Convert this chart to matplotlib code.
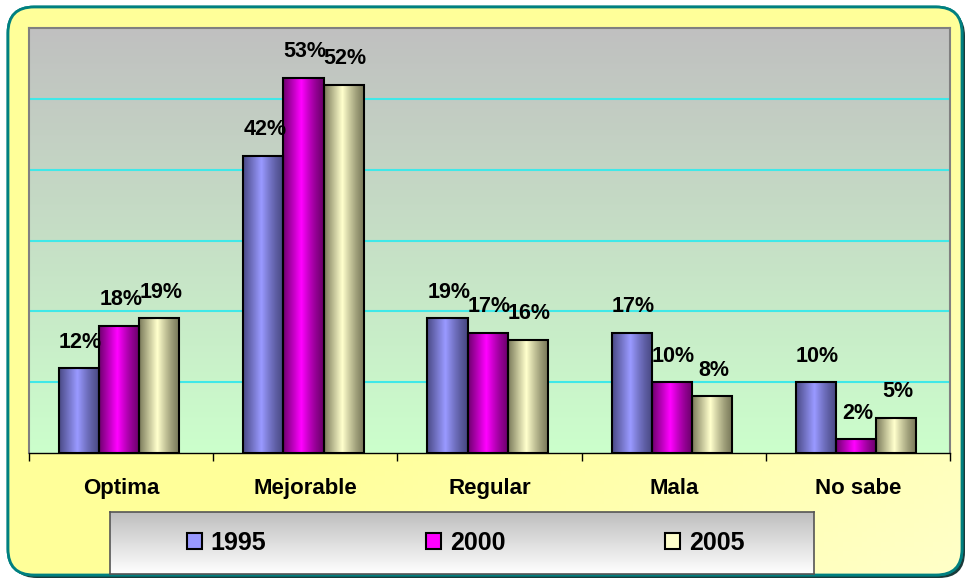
"""
Encuesta: valoracion por anio - barras agrupadas estilo Excel
"""
import matplotlib
matplotlib.use('Agg')
import matplotlib.pyplot as plt
import matplotlib.patches as patches
from matplotlib.colors import LinearSegmentedColormap
import numpy as np

plt.rcParams['font.family'] = ['Liberation Sans', 'DejaVu Sans']

categories = ['Optima', 'Mejorable', 'Regular', 'Mala', 'No sabe']
years = ['1995', '2000', '2005']
v1995 = [12, 42, 19, 17, 10]
v2000 = [18, 53, 17, 10, 2]
v2005 = [19, 52, 16, 8, 5]
series = [v1995, v2000, v2005]

base_colors = ['#9999FF', '#FF00FF', '#FFFFCC']
dark_colors = ['#4A4A85', '#6E006E', '#7A7A5A']

W, H = 966, 581
fig = plt.figure(figsize=(W / 100, H / 100), dpi=100)
fig.patch.set_facecolor('white')

# fondo redondeado amarillo con sombra
bg = fig.add_axes([0, 0, 1, 1], zorder=-5)
bg.set_xlim(0, W)
bg.set_ylim(H, 0)
bg.axis('off')
shadow = patches.FancyBboxPatch((11, 10), W - 12, H - 13,
                                boxstyle='round,pad=0,rounding_size=26',
                                facecolor='#1a3a3a', edgecolor='none')
bg.add_patch(shadow)
frame = patches.FancyBboxPatch((8, 7), W - 12, H - 13,
                               boxstyle='round,pad=0,rounding_size=26',
                               facecolor='#FFFF99', edgecolor='#008080',
                               linewidth=2)
bg.add_patch(frame)
gx, gy = np.meshgrid(np.linspace(0, 1, 200), np.linspace(0, 1, 120))
g = np.clip((gx * 0.5 + gy * 0.5 - 0.55) / 0.45, 0, 1)
ycmap = LinearSegmentedColormap.from_list('y', ['#FFFF99', '#FFFFC8'])
im = bg.imshow(g, cmap=ycmap, extent=[8, W - 4, H - 6, 7], aspect='auto', zorder=1)
im.set_clip_path(frame)
edge = patches.FancyBboxPatch((8, 7), W - 12, H - 13,
                              boxstyle='round,pad=0,rounding_size=26',
                              facecolor='none', edgecolor='#008080',
                              linewidth=2, zorder=2)
bg.add_patch(edge)

# area del grafico
ax = fig.add_axes([29 / W, 1 - 453 / H, (950 - 29) / W, (453 - 28) / H])
gcmap = LinearSegmentedColormap.from_list('g', ['#CCFFCC', '#C0C0C0'])
ax.imshow(np.linspace(0, 1, 256).reshape(-1, 1), cmap=gcmap, origin='lower',
          extent=[0, 1, 0, 1], transform=ax.transAxes, aspect='auto', zorder=0)

x = np.arange(len(categories))
width = 0.218
prof = np.concatenate([np.linspace(0, 1, 45), np.linspace(1, 0, 55) ** 1.3])
prof = prof.reshape(1, -1)

for i, (vals, c, dc) in enumerate(zip(series, base_colors, dark_colors)):
    pos = x + (i - 1) * width - 0.01
    bars = ax.bar(pos, vals, width, facecolor='none', edgecolor='black',
                  linewidth=1.5, zorder=3)
    cmap = LinearSegmentedColormap.from_list('b%d' % i, [dc, c])
    for b, v in zip(bars, vals):
        gim = ax.imshow(prof, cmap=cmap, extent=[b.get_x(), b.get_x() + b.get_width(), 0, v],
                        aspect='auto', zorder=2)
        gim.set_clip_path(b)
        ax.annotate(f'{v}%', (b.get_x() + b.get_width() / 2, v),
                    xytext=(1, 11), textcoords='offset points',
                    ha='center', va='bottom', fontsize=15.5, fontweight='bold')

ax.set_xlim(-0.5, len(categories) - 0.5)
ax.set_ylim(0, 60)
ax.set_aspect('auto')
ax.set_yticks([])
for yv in range(10, 60, 10):
    ax.axhline(yv, color='#40E8E8', linewidth=1.5, zorder=1)

ax.set_xticks(x)
ax.set_xticklabels(categories, fontsize=16, fontweight='bold')
ax.tick_params(axis='x', which='major', length=0, pad=18)
ax.set_xticks(np.arange(-0.5, len(categories), 1), minor=True)
ax.tick_params(axis='x', which='minor', length=6, width=1, direction='out', color='black')

for s in ['top', 'left', 'right']:
    ax.spines[s].set_color('#808080')
    ax.spines[s].set_linewidth(1.5)
ax.spines['bottom'].set_color('black')
ax.spines['bottom'].set_linewidth(1)

# leyenda con fondo degradado
lax = fig.add_axes([110 / W, 1 - 574 / H, (814 - 110) / W, (574 - 512) / H])
lcmap = LinearSegmentedColormap.from_list('l', ['#FFFFFF', '#BDBDBD'])
lax.imshow(np.linspace(0, 1, 256).reshape(-1, 1), cmap=lcmap, origin='lower',
           extent=[0, 1, 0, 1], aspect='auto')
lax.set_xticks([])
lax.set_yticks([])
for s in lax.spines.values():
    s.set_color('#555555')
    s.set_linewidth(1.2)
handles = [patches.Patch(facecolor=c, edgecolor='black', linewidth=1.5) for c in base_colors]
lax.legend(handles, years, loc='center', ncol=3, frameon=False,
           prop={'size': 18, 'weight': 'bold'}, handlelength=0.6, handleheight=0.6,
           handletextpad=0.35, columnspacing=6.4, bbox_to_anchor=(0.505, 0.5))

fig.savefig('out.png', dpi=100)
